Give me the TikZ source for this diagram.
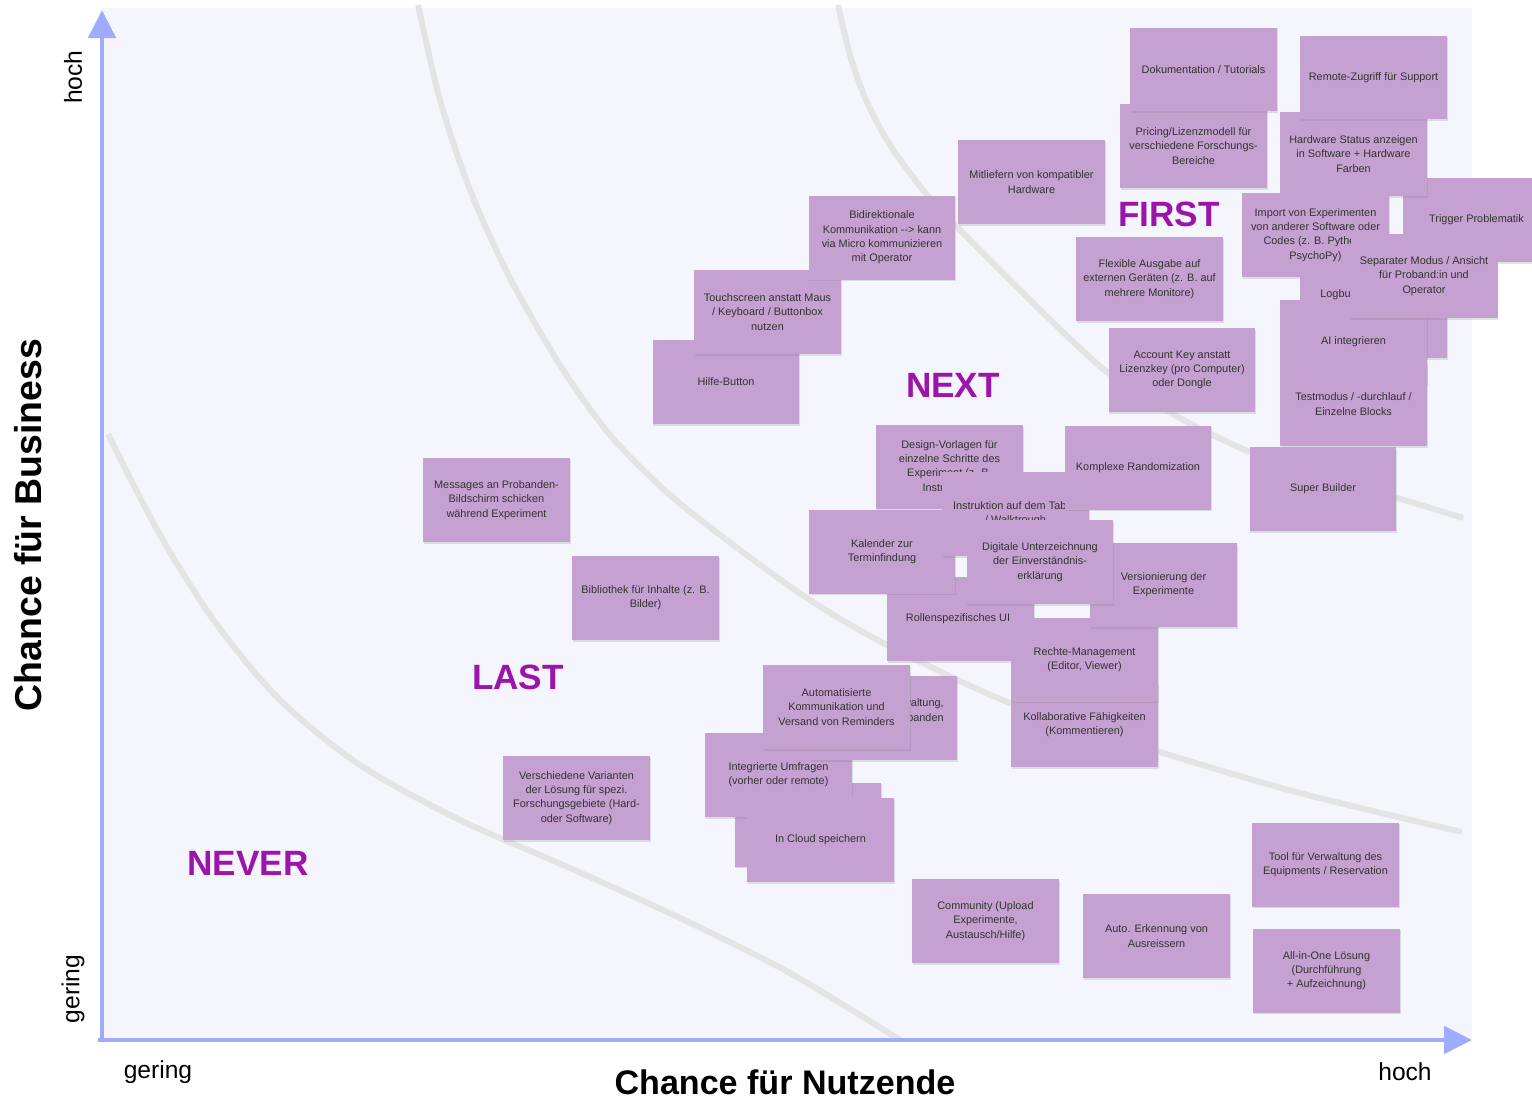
\documentclass[tikz,border=0pt]{standalone}
\usepackage{fontspec}
\setmainfont{Liberation Sans}
\usetikzlibrary{arrows.meta,shadows}

\definecolor{plotbg}{RGB}{245,245,254}
\definecolor{axisblue}{RGB}{160,170,255}
\definecolor{zoneline}{RGB}{228,228,228}
\definecolor{stickyfill}{RGB}{197,161,209}
\definecolor{stickytext}{RGB}{51,51,51}
\definecolor{zonepurple}{RGB}{156,20,170}

\def\notefont{\fontsize{6.2}{8.1}\selectfont}

\begin{document}
\begin{tikzpicture}[x=0.02cm, y=-0.02cm,
	sticky/.style={rectangle, fill=stickyfill, minimum width=2.94cm, minimum height=1.68cm,
		inner sep=0pt, align=center, text=stickytext, font=\notefont,
		drop shadow={shadow xshift=0.4pt, shadow yshift=-0.9pt, opacity=0.22}},
	stickytxt/.style={inner sep=0pt, text=stickytext, font=\notefont},
	zone/.style={text=zonepurple, font=\fontsize{20}{24}\selectfont\bfseries},
	zoneline/.style={draw=zoneline, line width=3.4pt},
	axis/.style={draw=axisblue, line width=2.8pt},
	level/.style={font=\fontsize{14}{16}\selectfont},
]

% canvas %{{{2

	\useasboundingbox (0,0) rectangle (1532,1100);
	\fill[plotbg] (102,8) rectangle (1472,1040);

% zone borders %{{{2

	\draw[zoneline] plot[smooth] coordinates {(108,434) (160,535) (215,622) (280,700)
		(360,765) (460,820) (570,868) (680,918) (790,973) (900,1040)};

	\draw[zoneline] plot[smooth] coordinates {(418,5) (440,100) (470,190) (510,278)
		(560,365) (610,435) (670,495) (740,550) (810,600) (887,645) (1010,703)
		(1160,752) (1300,793) (1462,832)};

	\draw[zoneline] plot[smooth] coordinates {(838,5) (850,55) (866,100) (890,145)
		(927,195) (957,227) (1030,300) (1107,372) (1180,418) (1250,452) (1330,480)
		(1397,498) (1463,518)};

% axes %{{{2

	\coordinate (O) at (102,1042);
	\coordinate (Y) at (102,10);
	\coordinate (X) at (1472,1040);

	\draw[axis, -{Triangle[length=0.56cm, width=0.54cm]}] (O) -- (Y);
	\draw[axis, -{Triangle[length=0.56cm, width=0.54cm]}] (98,1040) -- (X);

	\node[font=\fontsize{21.3}{24}\selectfont\bfseries, rotate=90] (ytitle) at (28,525) {Chance für Business};
	\node[font=\fontsize{19.4}{22}\selectfont\bfseries] (xtitle) at (785,1082) {Chance für Nutzende};

	\node[level, rotate=90] (yhigh) at (73,77) {hoch};
	\node[level, rotate=90] (ylow) at (73,989) {gering};
	\node[level] (xlow) at (158,1072) {gering};
	\node[level] (xhigh) at (1405,1072) {hoch};

% zones %{{{2

	\node[zone] (first) at (1169,214) {FIRST};
	\node[zone] (next) at (953,385) {NEXT};
	\node[zone] (last) at (518,677) {LAST};
	\node[zone] (never) at (248,863) {NEVER};

% stickies, top right %{{{2

	\node[sticky] (pricing) at (1193.5,146) {Pricing/Lizenzmodell für\\verschiedene Forschungs-\\Bereiche};
	\node[sticky] (doku) at (1203.5,69.5) {Dokumentation / Tutorials};
	\node[sticky] (trigger) at (1476.5,220) {Trigger Problematik};
	\node[sticky] (hwstatus) at (1353.5,154) {Hardware Status anzeigen\\in Software + Hardware\\Farben};
	\node[sticky] (remote) at (1373.5,77.5) {Remote-Zugriff für Support};
	\node[sticky] (import) at (1315.5,235) {Import von Experimenten\\von anderer Software oder\\Codes (z. B. Python /\\PsychoPy)};
	\node[sticky] (logbuch) at (1373.5,316) {};
	\node[stickytxt, anchor=west] (logbuchtxt) at (1320,295) {Logbuch};
	\node[sticky] (ai) at (1353.5,342) {AI integrieren};
	\node[sticky] (testmodus) at (1353.5,404) {Testmodus / -durchlauf /\\Einzelne Blocks};
	\node[sticky] (separat) at (1424,276) {Separater Modus / Ansicht\\für Proband:in und\\Operator};
	\node[sticky] (builder) at (1323,489) {Super Builder};

	\node[sticky] (mitliefern) at (1031.5,182) {Mitliefern von kompatibler\\Hardware};
	\node[sticky] (flexibel) at (1149.5,279) {Flexible Ausgabe auf\\externen Geräten (z. B. auf\\mehrere Monitore)};
	\node[sticky] (account) at (1182,370) {Account Key anstatt\\Lizenzkey (pro Computer)\\oder Dongle};

% stickies, hardware side %{{{2

	\node[sticky] (hilfe) at (726,382) {Hilfe-Button};
	\node[sticky] (touch) at (767.5,312) {Touchscreen anstatt Maus\\/ Keyboard / Buttonbox\\nutzen};
	\node[sticky] (bidir) at (882,237.5) {Bidirektionale\\Kommunikation -{}-> kann\\via Micro kommunizieren\\mit Operator};

% stickies, middle %{{{2

	\node[sticky] (design) at (949.5,467) {Design-Vorlagen für\\einzelne Schritte des\\Experiment (z. B.\\Instruktion)};
	\node[sticky] (kollab) at (1084.5,725) {Kollaborative Fähigkeiten\\(Kommentieren)};
	\node[sticky] (rollen) at (960.5,619) {};
	\node[stickytxt] (rollentxt) at (958,619) {Rollenspezifisches UI};
	\node[sticky] (rechte) at (1084.5,659.5) {Rechte-Management\\(Editor, Viewer)};
	\node[sticky] (version) at (1163.5,585) {Versionierung der\\Experimente};
	\node[sticky] (kalender) at (882,551.5) {Kalender zur\\Terminfindung};
	\node[sticky] (instruktion) at (1015.5,514) {Instruktion auf dem Tablet\\/ Walktrough};
	\node[sticky] (random) at (1138,467.5) {Komplexe Randomization};
	\node[sticky] (digital) at (1040,562) {Digitale Unterzeichnung\\der Einverständnis-\\erklärung};

% stickies, bottom middle %{{{2

	\node[sticky] (cloudback) at (808,824.5) {};
	\node[sticky] (umfrage) at (778.5,775) {Integrierte Umfragen\\(vorher oder remote)};
	\node[sticky] (verwaltung) at (883.5,718) {};
	\node[stickytxt, anchor=east, align=right] (verwaltungtxt) at (944,710) {Verwaltung,\\von Probanden};
	\node[sticky] (reminder) at (836.5,707) {Automatisierte\\Kommunikation und\\Versand von Reminders};
	\node[sticky] (cloud) at (820.5,840) {In Cloud speichern};

% stickies, left %{{{2

	\node[sticky] (messages) at (496.5,500) {Messages an Probanden-\\Bildschirm schicken\\während Experiment};
	\node[sticky] (biblio) at (645.5,598) {Bibliothek für Inhalte (z. B.\\Bilder)};
	\node[sticky] (varianten) at (576.5,798) {Verschiedene Varianten\\der Lösung für spezi.\\Forschungsgebiete (Hard-\\oder Software)};

% stickies, bottom right %{{{2

	\node[sticky] (community) at (985.5,921) {Community (Upload\\Experimente,\\Austausch/Hilfe)};
	\node[sticky] (ausreisser) at (1156.5,936) {Auto. Erkennung von\\Ausreissern};
	\node[sticky] (equipment) at (1325.5,864.5) {Tool für Verwaltung des\\Equipments / Reservation};
	\node[sticky] (allinone) at (1326.5,970.5) {All-in-One Lösung\\(Durchführung\\+ Aufzeichnung)};

% closing %{{{2

\end{tikzpicture}
\end{document}
